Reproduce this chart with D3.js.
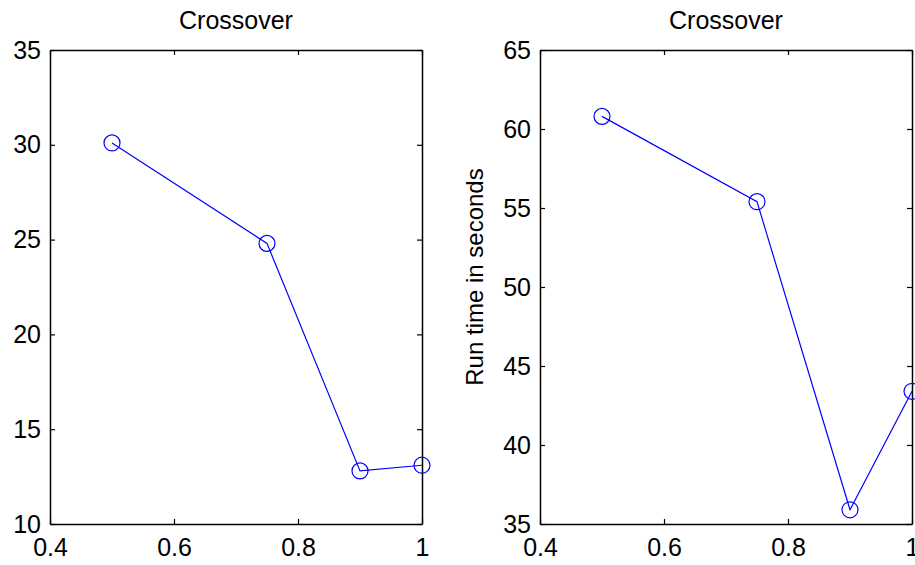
<!DOCTYPE html>
<html>
<head>
<meta charset="utf-8">
<script src="https://cdn.jsdelivr.net/npm/d3@7"></script>
<style>
body { margin: 0; background: #fff; }
svg { font-family: "Liberation Sans", Arial, sans-serif; }
</style>
</head>
<body>
<svg width="915" height="565"></svg>
<script>
// crossover rates
var xVals = [0.5, 0.75, 0.9, 1];
// left panel values
var leftVals = [30.1, 24.8, 12.8, 13.1];
// right panel values (run time in seconds)
var rightVals = [60.8, 55.4, 35.9, 43.4];
var xTicks = [0.4, 0.6, 0.8, 1];
var leftTicks = [10, 15, 20, 25, 30, 35];
var rightTicks = [35, 40, 45, 50, 55, 60, 65];

var svg = d3.select("svg");

function panel(left, vals, yDom, yTicks, title, ylabel) {
  var w = 372, top = 50, bottom = 524;
  var x = d3.scaleLinear().domain([0.4, 1]).range([left, left + w]);
  var y = d3.scaleLinear().domain(yDom).range([bottom, top]);
  var g = svg.append("g");

  // ticks inside the box, on all four sides
  g.append("g").attr("transform", "translate(0," + bottom + ")")
    .call(d3.axisBottom(x).tickValues(xTicks).tickSizeInner(-5).tickSizeOuter(0).tickPadding(14).tickFormat(d3.format("")));
  g.append("g").attr("transform", "translate(0," + top + ")")
    .call(d3.axisTop(x).tickValues(xTicks).tickSizeInner(-5).tickSizeOuter(0).tickFormat(""));
  g.append("g").attr("transform", "translate(" + left + ",0)")
    .call(d3.axisLeft(y).tickValues(yTicks).tickSizeInner(-5).tickSizeOuter(0).tickPadding(9));
  g.append("g").attr("transform", "translate(" + (left + w) + ",0)")
    .call(d3.axisRight(y).tickValues(yTicks).tickSizeInner(-5).tickSizeOuter(0).tickFormat(""));

  g.selectAll(".domain").attr("stroke", "#000").attr("stroke-width", 1.5);
  g.selectAll(".tick line").attr("stroke", "#000").attr("stroke-width", 1.2);
  g.selectAll(".tick text").attr("font-size", 25).attr("fill", "#000")
    .attr("font-family", "Liberation Sans, Arial, sans-serif");

  var line = d3.line().x(function(d, i) { return x(xVals[i]); }).y(function(d) { return y(d); });
  g.append("path").datum(vals).attr("d", line)
    .attr("fill", "none").attr("stroke", "#0000ff").attr("stroke-width", 1.2);
  g.selectAll("circle").data(vals).enter().append("circle")
    .attr("cx", function(d, i) { return x(xVals[i]); })
    .attr("cy", function(d) { return y(d); })
    .attr("r", 8)
    .attr("fill", "none").attr("stroke", "#0000ff").attr("stroke-width", 1.2);

  g.append("text").attr("x", left + w / 2).attr("y", 29)
    .attr("text-anchor", "middle").attr("font-size", 25).text(title);

  if (ylabel) {
    g.append("text")
      .attr("transform", "translate(" + (left - 57) + ",277) rotate(-90)")
      .attr("text-anchor", "middle").attr("font-size", 24).text(ylabel);
  }
}

panel(50, leftVals, [10, 35], leftTicks, "Crossover", null);
panel(540, rightVals, [35, 65], rightTicks, "Crossover", "Run time in seconds");
</script>
</body>
</html>
